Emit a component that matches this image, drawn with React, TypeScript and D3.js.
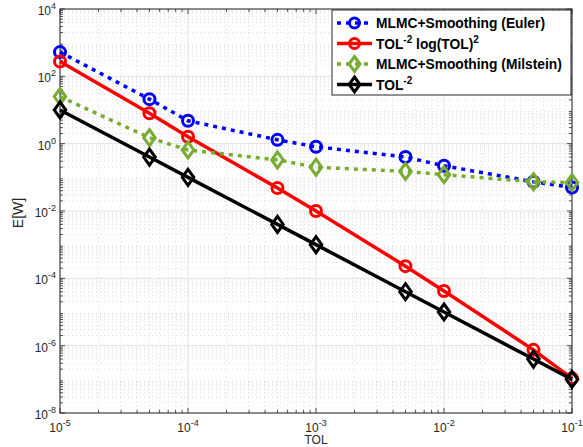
import React, { useEffect, useRef } from "react";
import * as d3 from "d3";

const tol = [1e-5, 5e-5, 1e-4, 5e-4, 1e-3, 5e-3, 1e-2, 5e-2, 1e-1];
const euler = [525, 21, 4.8, 1.3, 0.81, 0.4, 0.22, 0.074, 0.05];
const logRate = [275, 8, 1.6, 0.048, 0.01, 2.3e-4, 4.2e-5, 7.5e-7, 1.07e-7];
const milstein = [25, 1.5, 0.65, 0.33, 0.2, 0.15, 0.12, 0.074, 0.07];
const tolRate = [10, 0.4, 0.1, 4e-3, 1e-3, 4e-5, 1e-5, 4e-7, 1e-7];

const xExps = [-5, -4, -3, -2, -1];
const yExps = [-8, -6, -4, -2, 0, 2, 4];

const series = [
  { name: "MLMC+Smoothing (Euler)", values: euler, color: "#0000ff", dash: "4,5", marker: "circle" },
  { name: "TOL^-2 log(TOL)^2", values: logRate, color: "#ff0000", dash: null, marker: "circle" },
  { name: "MLMC+Smoothing (Milstein)", values: milstein, color: "#77ac30", dash: "4,5", marker: "diamond" },
  { name: "TOL^-2", values: tolRate, color: "#000000", dash: null, marker: "diamond" },
];

const App = () => {
  const ref = useRef<SVGSVGElement>(null);

  useEffect(() => {
    const svg = d3.select(ref.current);
    svg.selectAll("*").remove();

    const left = 60, right = 572, top = 9, bottom = 413;
    const x = d3.scaleLog().domain([1e-5, 1e-1]).range([left, right]);
    const y = d3.scaleLog().domain([1e-8, 1e4]).range([bottom, top]);
    const font = "Liberation Sans, Arial, sans-serif";

    const grid = svg.append("g");
    // minor grid
    const minorX: number[] = [];
    for (let e = -5; e < -1; e++) for (let k = 2; k <= 9; k++) minorX.push(k * Math.pow(10, e));
    const minorY: number[] = [];
    for (let e = -8; e < 4; e++) for (let k = 2; k <= 9; k++) minorY.push(k * Math.pow(10, e));

    grid.selectAll(".mx").data(minorX).enter().append("line")
      .attr("x1", (d) => x(d)).attr("x2", (d) => x(d))
      .attr("y1", top).attr("y2", bottom)
      .attr("stroke", "#d4d4d4").attr("stroke-width", 0.8).attr("stroke-dasharray", "1,3");
    grid.selectAll(".my").data(minorY).enter().append("line")
      .attr("y1", (d) => y(d)).attr("y2", (d) => y(d))
      .attr("x1", left).attr("x2", right)
      .attr("stroke", "#d4d4d4").attr("stroke-width", 0.8).attr("stroke-dasharray", "1,3");
    grid.selectAll(".Mx").data(xExps).enter().append("line")
      .attr("x1", (d) => x(Math.pow(10, d))).attr("x2", (d) => x(Math.pow(10, d)))
      .attr("y1", top).attr("y2", bottom)
      .attr("stroke", "#e2e2e2").attr("stroke-width", 1);
    grid.selectAll(".My").data(yExps).enter().append("line")
      .attr("y1", (d) => y(Math.pow(10, d))).attr("y2", (d) => y(Math.pow(10, d)))
      .attr("x1", left).attr("x2", right)
      .attr("stroke", "#e2e2e2").attr("stroke-width", 1);

    // ticks
    const ticks = svg.append("g").attr("stroke", "#262626").attr("stroke-width", 0.8);
    minorX.forEach((v) => {
      ticks.append("line").attr("x1", x(v)).attr("x2", x(v)).attr("y1", bottom).attr("y2", bottom - 3);
      ticks.append("line").attr("x1", x(v)).attr("x2", x(v)).attr("y1", top).attr("y2", top + 3);
    });
    xExps.forEach((e) => {
      const v = Math.pow(10, e);
      ticks.append("line").attr("x1", x(v)).attr("x2", x(v)).attr("y1", bottom).attr("y2", bottom - 5);
      ticks.append("line").attr("x1", x(v)).attr("x2", x(v)).attr("y1", top).attr("y2", top + 5);
    });
    minorY.forEach((v) => {
      ticks.append("line").attr("y1", y(v)).attr("y2", y(v)).attr("x1", left).attr("x2", left + 3);
      ticks.append("line").attr("y1", y(v)).attr("y2", y(v)).attr("x1", right).attr("x2", right - 3);
    });
    yExps.forEach((e) => {
      const v = Math.pow(10, e);
      ticks.append("line").attr("y1", y(v)).attr("y2", y(v)).attr("x1", left).attr("x2", left + 5);
      ticks.append("line").attr("y1", y(v)).attr("y2", y(v)).attr("x1", right).attr("x2", right - 5);
    });

    svg.append("rect").attr("x", left).attr("y", top)
      .attr("width", right - left).attr("height", bottom - top)
      .attr("fill", "none").attr("stroke", "#262626").attr("stroke-width", 1);

    // tick labels
    xExps.forEach((e) => {
      const t = svg.append("text").attr("x", x(Math.pow(10, e))).attr("y", 432)
        .attr("text-anchor", "middle").attr("font-family", font).attr("font-size", 12).attr("fill", "#262626");
      t.append("tspan").text("10");
      t.append("tspan").attr("dy", -6).attr("font-size", 9).text(String(e));
    });
    yExps.forEach((e) => {
      const t = svg.append("text").attr("x", 56).attr("y", y(Math.pow(10, e)) + 6)
        .attr("text-anchor", "end").attr("font-family", font).attr("font-size", 12).attr("fill", "#262626");
      t.append("tspan").text("10");
      t.append("tspan").attr("dy", -6).attr("font-size", 9).text(String(e));
    });

    svg.append("text").attr("x", (left + right) / 2).attr("y", 444).attr("text-anchor", "middle")
      .attr("font-family", font).attr("font-size", 12).attr("fill", "#262626").text("TOL");
    svg.append("text").attr("transform", `translate(23,${(top + bottom) / 2 + 2}) rotate(-90)`)
      .attr("text-anchor", "middle").attr("font-family", font).attr("font-size", 14)
      .attr("fill", "#262626").text("E[W]");

    const line = d3.line<number>().x((d, i) => x(tol[i])).y((d) => y(d));

    const drawMarker = (g: any, cx: number, cy: number, s: any, size: number) => {
      if (s.marker === "circle") {
        g.append("circle").attr("cx", cx).attr("cy", cy).attr("r", size)
          .attr("fill", "none").attr("stroke", s.color).attr("stroke-width", 3);
      } else {
        const h = size + 2.5;
        g.append("path")
          .attr("d", `M${cx},${cy - h}L${cx + h * 0.72},${cy}L${cx},${cy + h}L${cx - h * 0.72},${cy}Z`)
          .attr("fill", "none").attr("stroke", s.color).attr("stroke-width", 3);
      }
    };

    const plot = svg.append("g");
    series.forEach((s) => {
      const g = plot.append("g");
      g.append("path").datum(s.values).attr("d", line).attr("fill", "none")
        .attr("stroke", s.color).attr("stroke-width", 3.5)
        .attr("stroke-dasharray", s.dash ? s.dash : null);
      s.values.forEach((v, i) => drawMarker(g, x(tol[i]), y(v), s, 5.5));
    });

    // legend
    const lg = svg.append("g");
    lg.append("rect").attr("x", 332).attr("y", 10).attr("width", 239).attr("height", 85)
      .attr("fill", "#fff").attr("stroke", "#262626").attr("stroke-width", 1);
    series.forEach((s, i) => {
      const ly = 23 + i * 20.5;
      lg.append("line").attr("x1", 337).attr("x2", 372).attr("y1", ly).attr("y2", ly)
        .attr("stroke", s.color).attr("stroke-width", 3.5)
        .attr("stroke-dasharray", s.dash ? s.dash : null);
      drawMarker(lg, 354.5, ly, s, 5);
      const t = lg.append("text").attr("x", 376).attr("y", ly + 5)
        .attr("font-family", font).attr("font-size", 13.8).attr("font-weight", "bold").attr("fill", "#000");
      if (i === 1) {
        t.append("tspan").text("TOL");
        t.append("tspan").attr("dy", -6).attr("font-size", 10).text("-2");
        t.append("tspan").attr("dy", 6).text(" log(TOL)");
        t.append("tspan").attr("dy", -6).attr("font-size", 10).text("2");
      } else if (i === 3) {
        t.append("tspan").text("TOL");
        t.append("tspan").attr("dy", -6).attr("font-size", 10).text("-2");
      } else {
        t.text(s.name);
      }
    });
  }, []);

  return (
    <div>
      <svg ref={ref} width={583} height={447} style={{ position: "absolute", left: 0, top: 0 }}></svg>
    </div>
  );
};

export default App;
